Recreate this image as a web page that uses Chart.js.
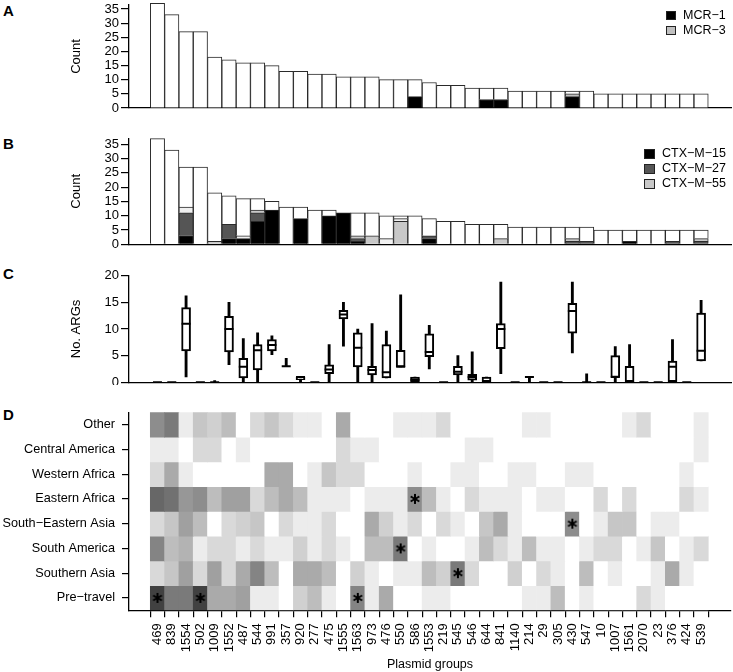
<!DOCTYPE html>
<html>
<head>
<meta charset="utf-8">
<script src="https://cdn.jsdelivr.net/npm/chart.js@4/dist/chart.umd.min.js"></script>
<style>
  body { margin: 0; background: #fff; font-family: "Liberation Sans", Arial, sans-serif; }
  #page { position: relative; width: 733px; height: 672px; overflow: hidden; }
  .panel { position: absolute; left: 0; width: 733px; }
  .tag { position: absolute; left: 3px; font-weight: bold; font-size: 15px; line-height: 15px; }
  .legend { position: absolute; font-size: 12.5px; line-height: 15px; }
  .legend div { display: flex; align-items: center; height: 15px; }
  .legend .box { display: inline-block; border: 1px solid #222; box-sizing: border-box; margin-right: 7px; }
</style>
</head>
<body>
<div id="page">
  <div class="tag" style="top:3px">A</div>
  <div class="tag" style="top:136px">B</div>
  <div class="tag" style="top:266px">C</div>
  <div class="tag" style="top:407px">D</div>

  <div class="panel" style="top:0;height:112px"><canvas id="chartA"></canvas></div>
  <div class="panel" style="top:125px;height:123px"><canvas id="chartB"></canvas></div>
  <div class="panel" style="top:255px;height:130px"><canvas id="chartC"></canvas></div>
  <div class="panel" style="top:400px;height:272px"><canvas id="chartD"></canvas></div>

  <div class="legend" style="left:666px;top:8px">
    <div><span class="box" style="width:10px;height:9px;background:#000"></span>MCR−1</div>
    <div><span class="box" style="width:10px;height:9px;background:#c0c0c0"></span>MCR−3</div>
  </div>
  <div class="legend" style="left:644px;top:146px">
    <div><span class="box" style="width:11px;height:10px;background:#000"></span>CTX−M−15</div>
    <div><span class="box" style="width:11px;height:10px;background:#555"></span>CTX−M−27</div>
    <div><span class="box" style="width:11px;height:10px;background:#c8c8c8"></span>CTX−M−55</div>
  </div>
</div>
<script>
// plasmid groups (x axis, same order in all four panels)
const groups = ['469','839','1554','502','1009','1552','487','544','991','357','920','277','475','1555','1563',
  '973','476','550','586','1553','219','545','546','644','841','1140','214','29','305','430','547','10',
  '1007','1561','2070','23','376','424','539'];

// panel A / B bar totals
const totals = [37,33,27,27,18,17,16,16,15,13,13,12,12,11,11,11,10,10,10,9,8,8,7,7,7,6,6,6,6,6,6,5,5,5,5,5,5,5,5];
// panel A
const mcr1 = [0,0,0,0,0,0,0,0,0,0,0,0,0,0,0,0,0,0,4,0,0,0,0,3,3,0,0,0,0,4,0,0,0,0,0,0,0,0,0];
const mcr3 = [0,0,0,0,0,0,0,0,0,0,0,0,0,0,0,0,0,0,0,0,0,0,0,0,0,0,0,0,0,1,0,0,0,0,0,0,0,0,0];
// panel B
const ctx15 = [0,0,3,0,0,2,2,8,12,0,9,0,10,11,1,0,0,0,0,2,0,0,0,0,0,0,0,0,0,0,0,0,0,1,0,0,0,0,0];
const ctx27 = [0,0,8,0,0,5,0,3,0,0,0,0,0,0,1,0,0,0,0,1,0,0,0,0,0,0,0,0,0,1,1,0,0,0,0,0,1,0,1];
const ctx55 = [0,0,0,0,1,0,0,1,0,0,0,0,0,0,1,3,0,8,0,0,0,0,0,0,2,0,0,0,0,1,0,0,0,0,0,0,0,0,1];
const ctxOther = [0,0,2,0,0,0,1,0,0,0,0,0,0,0,0,0,2,1,0,0,0,0,0,0,0,0,0,0,0,0,0,0,0,0,0,0,0,0,0];

// panel C: number of ARGs, box plot summaries
const argMin = [0,0,1,0,0,3.3,0,0,5.2,3,0,0,0,6.8,0,0,0.8,2.9,0,2.5,0,0,0,0,1.6,0,0,0,0,5.5,0,0,0,0,0,0,0,0,4];
const argQ1  = [0,0,5.9,0,0,5.7,0.8,2.3,5.9,3,0.5,0,1.6,11.9,2.9,1.4,0.8,2.9,0,4.8,0,1.4,0.4,0,6.3,0,1,0,0,9.2,0,0,0.9,0,0,0,0,0,4];
const argMed = [0,0,11,0,0,10,2.9,6,7,3,1,0,2.4,12.7,6.5,2.3,1.9,2.9,0.5,5.7,0,2,1,0,10,0,1,0,0,13.4,0,0,1,0,0,0,2.9,0,5.9];
const argQ3  = [0,0,14,0,0,12.4,4.5,7.1,8,3,1,0,3.3,13.5,9.3,3,7.1,6,1,9.1,0,3,1.5,1,11,0,1,0,0,14.8,0,0,5,3,0,0,4,0,13];
const argMax = [0,0,16.2,0,0.3,15,8.2,9.3,8.7,4.5,1,0,7.1,15,10,11,9.6,16.4,1,10.7,0,5,5.7,1,18.8,0,1,0,0,18.8,1.6,0,6.7,7.1,0,0,8,0,15.4];

// panel D heatmap rows (top to bottom)
const regions = ['Other','Central America','Western Africa','Eastern Africa','South−Eastern Asia','South America','Southern Asia','Pre−travel'];
const heatOther     = [6,7,1,3,2.5,3.5,0,2,3,2,1,1,0,4.5,0,0,0,1,1,1,2,0,0,0,0,0,1,1,0,0,0,0,0,1,2,0,0,0,1];
const heatCentral   = [1,1,0,2,2,0,1,0,0,0,0,0,0,2,1,1,0,0,0,0,0,0,1,1,0,0,0,0,0,0,0,0,0,0,0,0,0,0,1];
const heatWestAfr   = [2,4.5,1,0,0,0,0,0,4.5,4.5,0,1,3,2,2,0,0,0,1,0,0,1,1,0,0,1,1,0,0,1,1,0,0,0,0,0,0,1,0];
const heatEastAfr   = [8,7.5,5.5,6,3.5,5,5,2,3.5,4.5,3.5,1,1,1,0,1,1,1,6,3.5,1,0,2,1,1,1,0,1,1,0,0,2,0,2,0,0,0,2,1];
const heatSEAsia    = [2,3,5,3.5,0,2,2.5,3,0,2,1,1,2,0,0,4.5,2.5,1,2,0,2,1,0,3,4.5,1,0,0,0,6,0,1,3,3,0,1,1,0,0];
const heatSouthAm   = [6.5,3.5,4,1,2,2,1,2,1,1,2.5,1,2,1,0,3.5,3.5,7,0,1,0,0,1,3.5,2,1,3.5,1,1,0,1,2,2,0,1,3,0,1,2];
const heatSouthAsia = [2,3,5,2,5,2,4.5,6.5,3.5,0,4.5,4.5,3.5,0,2.5,1,0,1,1,3.5,2.5,7,2,0,0,2.5,0,2,1,0,3.5,0,1,0,0,1,4.5,1,0];
const heatPreTravel = [10,7,7,10,4.5,4.5,5,1,1,0,2.5,3.5,1,0,6.5,1,4.5,0,0,1,1,0,0,0,0,0,1,1,3.5,0,1,0,0,0,2,1,0,0,0];
const heatRows = [heatOther, heatCentral, heatWestAfr, heatEastAfr, heatSEAsia, heatSouthAm, heatSouthAsia, heatPreTravel];
// significant cells marked with *
const sigGroups  = ['469','502','1563','586','430','550','545'];
const sigRegions = ['Pre−travel','Pre−travel','Pre−travel','Eastern Africa','South−Eastern Asia','South America','Southern Asia'];

const countTicks = [0,5,10,15,20,25,30,35];
const argTicks = [0,5,10,15,20];

Chart.defaults.font.family = '"Liberation Sans", Arial, Helvetica, sans-serif';
Chart.defaults.font.size = 12;
Chart.defaults.color = '#000';
Chart.defaults.animation = false;
Chart.defaults.plugins.legend.display = false;
Chart.defaults.plugins.tooltip.enabled = false;

const pts = arr => arr.map((v, i) => ({x: i, y: v === 0 ? null : v}));
const grey = v => { const g = Math.round(255 - v * 19); return `rgb(${g},${g},${g})`; };

function xAxis(stacked) {
  return {
    type: 'linear', min: -1.45, max: 39.55, stacked,
    afterBuildTicks: s => { s.ticks = groups.map((g, i) => ({value: i})); },
    ticks: {display: false},
    grid: {display: false},
    border: {display: true, color: '#000', width: 1.3},
    afterFit: s => { s.height = 0; s.paddingLeft = 0; s.paddingRight = 0; }
  };
}
function yAxis(max, ticks, title, stacked) {
  return {
    min: 0, max, stacked,
    afterBuildTicks: s => { s.ticks = ticks.map(v => ({value: v})); },
    ticks: {padding: 2, autoSkip: false, font: {size: 13}},
    grid: {drawOnChartArea: false, tickLength: 8, color: '#000', lineWidth: 1.2},
    border: {display: true, color: '#000', width: 1.3},
    title: {display: true, text: title, font: {size: 13}, padding: {top: 69, bottom: 0}},
    afterFit: s => { s.width = 129; s.paddingTop = 0; s.paddingBottom = 0; }
  };
}
const barStyle = {borderColor: '#2a2a2a', borderWidth: 1, barPercentage: 1, categoryPercentage: 1, clip: false};

// A
new Chart(document.getElementById('chartA'), {
  type: 'bar',
  data: {datasets: [
    {...barStyle, label: 'MCR−1', data: pts(mcr1), backgroundColor: '#000'},
    {...barStyle, label: 'MCR−3', data: pts(mcr3), backgroundColor: '#c0c0c0'},
    {...barStyle, label: 'rest', data: pts(totals.map((t, i) => t - mcr1[i] - mcr3[i])), backgroundColor: '#fff'}
  ]},
  options: {responsive: true, maintainAspectRatio: false,
    layout: {autoPadding: false, padding: {top: 5, bottom: 4, left: 0, right: 2}},
    scales: {x: xAxis(true), y: yAxis(36.4, countTicks, 'Count', true)}}
});

// B
new Chart(document.getElementById('chartB'), {
  type: 'bar',
  data: {datasets: [
    {...barStyle, label: 'CTX−M−15', data: pts(ctx15), backgroundColor: '#000'},
    {...barStyle, label: 'CTX−M−27', data: pts(ctx27), backgroundColor: '#555'},
    {...barStyle, label: 'CTX−M−55', data: pts(ctx55), backgroundColor: '#c8c8c8'},
    {...barStyle, label: 'other CTX−M', data: pts(ctxOther), backgroundColor: '#f0f0f0'},
    {...barStyle, label: 'rest', data: pts(totals.map((t, i) => t - ctx15[i] - ctx27[i] - ctx55[i] - ctxOther[i])), backgroundColor: '#fff'}
  ]},
  options: {responsive: true, maintainAspectRatio: false,
    layout: {autoPadding: false, padding: {top: 13.3, bottom: 3.7, left: 0, right: 2}},
    scales: {x: xAxis(true), y: yAxis(37.1, countTicks, 'Count', true)}}
});

// C: box plots
new Chart(document.getElementById('chartC'), {
  type: 'bar',
  data: {datasets: [
    {type: 'line', label: 'median', showLine: false, order: 0,
      data: argMed.map((v, i) => ({x: i, y: v})),
      pointStyle: 'line', pointRadius: 4.5, pointBorderWidth: 2, pointBorderColor: '#000'},
    {label: 'IQR', order: 1, grouped: false, barThickness: 9,
      data: argQ1.map((v, i) => ({x: i, y: argQ3[i] > v ? [v, argQ3[i]] : null})),
      backgroundColor: '#fff', borderColor: '#000', borderWidth: 2, borderSkipped: false},
    {label: 'range', order: 2, grouped: false, barThickness: 2.2,
      data: argMin.map((v, i) => ({x: i, y: argMax[i] > v ? [v, argMax[i]] : null})),
      backgroundColor: '#000', borderWidth: 0}
  ]},
  options: {responsive: true, maintainAspectRatio: false,
    layout: {autoPadding: false, padding: {top: 20.7, bottom: 2.7, left: 0, right: 2}},
    scales: {x: xAxis(false), y: yAxis(20, argTicks, 'No. ARGs', false)}}
});

// D: heatmap
function asterisk() {
  const c = document.createElement('canvas');
  c.width = 12; c.height = 12;
  const g = c.getContext('2d');
  g.strokeStyle = '#000'; g.lineWidth = 2;
  for (const a of [90, 30, -30]) {
    const r = a * Math.PI / 180, dx = Math.cos(r) * 5, dy = Math.sin(r) * 5;
    g.beginPath(); g.moveTo(6 - dx, 6 - dy); g.lineTo(6 + dx, 6 + dy); g.stroke();
  }
  return c;
}
const heatSets = heatRows.map((row, r) => ({
  label: regions[r], order: 1, grouped: false,
  data: row.map((v, j) => ({x: j, y: [7 - r, 8 - r]})),
  backgroundColor: row.map(grey), borderWidth: 0, barPercentage: 1, categoryPercentage: 1
}));
heatSets.unshift({type: 'line', label: 'sig', showLine: false, order: 0,
  data: sigGroups.map((g, k) => ({x: groups.indexOf(g), y: 7.5 - regions.indexOf(sigRegions[k])})),
  pointStyle: asterisk(), pointRadius: 6});

new Chart(document.getElementById('chartD'), {
  type: 'bar',
  data: {datasets: heatSets},
  options: {responsive: true, maintainAspectRatio: false,
    layout: {autoPadding: false, padding: {top: 12.3, bottom: 0, left: 0, right: 2}},
    scales: {
      x: {type: 'linear', min: -1.45, max: 39.55,
        afterBuildTicks: s => { s.ticks = groups.map((g, i) => ({value: i})); },
        ticks: {autoSkip: false, minRotation: 90, maxRotation: 90, padding: 6, font: {size: 13},
          callback: (v, i) => groups[i]},
        grid: {drawOnChartArea: false, tickLength: 7, color: '#000', lineWidth: 1.2},
        border: {display: true, color: '#000', width: 1.3},
        title: {display: true, text: 'Plasmid groups', font: {size: 12.5}, padding: {top: 0, bottom: 0}},
        afterFit: s => { s.height = 61.7; s.paddingLeft = 0; s.paddingRight = 0; }},
      y: {min: 0, max: 8,
        afterBuildTicks: s => { s.ticks = regions.map((r, i) => ({value: 7.5 - i})); },
        ticks: {padding: 7, autoSkip: false, font: {size: 12.7}, callback: (v, i) => regions[i]},
        grid: {drawOnChartArea: false, tickLength: 7, color: '#000', lineWidth: 1.2},
        border: {display: true, color: '#000', width: 1.3},
        afterFit: s => { s.width = 129; s.paddingTop = 0; s.paddingBottom = 0; }}
    }}
});
</script>
</body>
</html>
